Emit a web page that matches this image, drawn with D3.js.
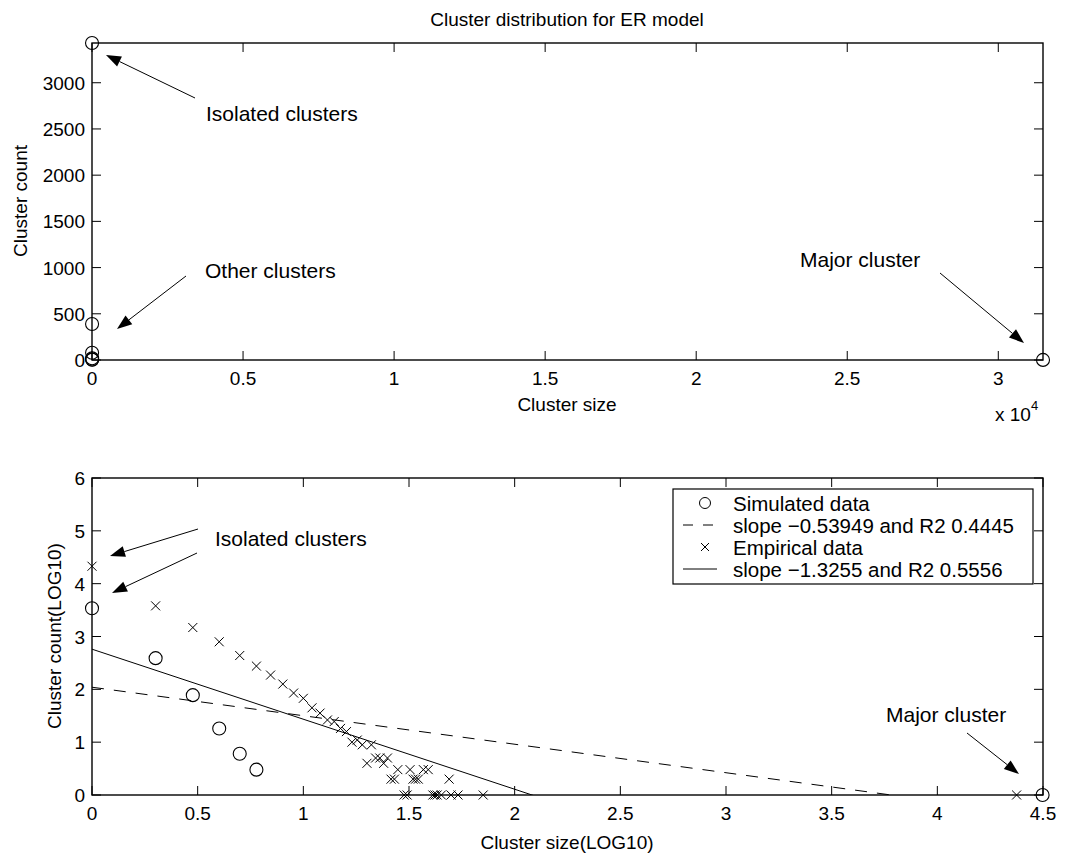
<!DOCTYPE html>
<html><head><meta charset="utf-8">
<script src="https://cdn.jsdelivr.net/npm/d3@7"></script>
<style>
html,body{margin:0;padding:0;background:#fff;}
svg text{font-family:"Liberation Sans",Arial,Helvetica,sans-serif;fill:#000;}
</style></head>
<body>
<script>
// ---------------- DATA ----------------
// Top panel: cluster size vs cluster count (linear)
const simSizes  = [1, 2, 3, 4, 5, 6, 31480];
const simCounts = [3430, 389, 78, 18, 6, 3, 1];
// Bottom panel: log10 values
const simLogX = [0, 0.301, 0.477, 0.602, 0.699, 0.778, 4.498];
const simLogY = [3.535, 2.59, 1.89, 1.26, 0.78, 0.48, 0];
const empLogX = [0, 0.301, 0.477, 0.602, 0.699, 0.778, 0.845, 0.903, 0.954, 1.0, 1.041, 1.079, 1.114, 1.146, 1.176, 1.204, 1.230, 1.255, 1.279, 1.301, 1.322, 1.342, 1.362, 1.380, 1.398, 1.415, 1.431, 1.447, 1.477, 1.491, 1.505, 1.519, 1.531, 1.544, 1.568, 1.591, 1.613, 1.623, 1.633, 1.653, 1.690, 1.699, 1.732, 1.851, 4.375];
const empLogY = [4.33, 3.58, 3.17, 2.90, 2.64, 2.44, 2.27, 2.10, 1.93, 1.83, 1.65, 1.55, 1.42, 1.39, 1.26, 1.20, 1.00, 1.04, 0.95, 0.60, 0.95, 0.70, 0.70, 0.60, 0.70, 0.30, 0.30, 0.48, 0, 0, 0.48, 0.30, 0.30, 0.30, 0.48, 0.48, 0, 0, 0, 0, 0.30, 0, 0, 0, 0];
// Fits: [slope, intercept]
const simFit = [-0.53949, 2.04];
const empFit = [-1.3255, 2.76];
const legendLabels = ["Simulated data", "slope \u22120.53949 and R2 0.4445", "Empirical data", "slope \u22121.3255 and R2 0.5556"];
const topXTicks = [0, 5000, 10000, 15000, 20000, 25000, 30000];
const topXTickLabels = ["0", "0.5", "1", "1.5", "2", "2.5", "3"];
const topYTicks = [0, 500, 1000, 1500, 2000, 2500, 3000];
const botXTicks = [0, 0.5, 1, 1.5, 2, 2.5, 3, 3.5, 4, 4.5];
const botXTickLabels = ["0", "0.5", "1", "1.5", "2", "2.5", "3", "3.5", "4", "4.5"];
const botYTicks = [0, 1, 2, 3, 4, 5, 6];

// ---------------- LAYOUT ----------------
const W = 1066, H = 853, FS = 19, FA = 21, FL = 20.5;
const svg = d3.select("body").append("svg").attr("width", W).attr("height", H);

function drawAxes(g, x, y, xt, xtl, yt, ytl) {
  const [x0, x1] = x.range(), [y0, y1] = y.range();
  const TL = 9;
  g.append("rect").attr("x", x0).attr("y", y1).attr("width", x1 - x0).attr("height", y0 - y1)
    .attr("fill", "none").attr("stroke", "#000").attr("stroke-width", 1.4);
  xt.forEach((v, i) => {
    const px = x(v);
    g.append("line").attr("x1", px).attr("x2", px).attr("y1", y0).attr("y2", y0 - TL).attr("stroke", "#000");
    g.append("line").attr("x1", px).attr("x2", px).attr("y1", y1).attr("y2", y1 + TL).attr("stroke", "#000");
    g.append("text").attr("x", px).attr("y", y0 + 25).attr("text-anchor", "middle")
      .attr("font-size", FS).text(xtl[i]);
  });
  yt.forEach((v, i) => {
    const py = y(v);
    g.append("line").attr("x1", x0).attr("x2", x0 + TL).attr("y1", py).attr("y2", py).attr("stroke", "#000");
    g.append("line").attr("x1", x1).attr("x2", x1 - TL).attr("y1", py).attr("y2", py).attr("stroke", "#000");
    g.append("text").attr("x", x0 - 7).attr("y", py + 7).attr("text-anchor", "end")
      .attr("font-size", FS).text(ytl[i]);
  });
}

function arrow(g, a) {
  const [tx, ty, hx, hy] = a;
  const ang = Math.atan2(hy - ty, hx - tx);
  const L = 15, Wd = 5.5;
  const bx = hx - L * Math.cos(ang), by = hy - L * Math.sin(ang);
  g.append("line").attr("x1", tx).attr("y1", ty).attr("x2", bx).attr("y2", by).attr("stroke", "#000").attr("stroke-width", 1);
  const px = -Math.sin(ang), py = Math.cos(ang);
  g.append("path").attr("d", `M${hx},${hy}L${bx + px * Wd},${by + py * Wd}L${bx - px * Wd},${by - py * Wd}Z`).attr("fill", "#000");
}

// ---------------- TOP PANEL ----------------
const xTop = d3.scaleLinear().domain([0, d3.max(simSizes)]).range([92, 1043]);
const yTop = d3.scaleLinear().domain([0, d3.max(simCounts)]).range([360, 43]);
const gT = svg.append("g");
drawAxes(gT, xTop, yTop, topXTicks, topXTickLabels, topYTicks, topYTicks.map(String));
gT.selectAll("circle.sim").data(simSizes).enter().append("circle")
  .attr("cx", (d) => xTop(d)).attr("cy", (d, i) => yTop(simCounts[i])).attr("r", 6.5)
  .attr("fill", "none").attr("stroke", "#000").attr("stroke-width", 1.1);
svg.append("text").attr("x", 567).attr("y", 26).attr("text-anchor", "middle").attr("font-size", FS).text("Cluster distribution for ER model");
svg.append("text").attr("x", 567).attr("y", 411).attr("text-anchor", "middle").attr("font-size", FS).text("Cluster size");
svg.append("text").attr("transform", "translate(27,201) rotate(-90)").attr("text-anchor", "middle").attr("font-size", FS).text("Cluster count");
const xe = svg.append("text").attr("x", 995).attr("y", 421).attr("font-size", FS);
xe.append("tspan").text("x 10");
xe.append("tspan").attr("dy", -11).attr("font-size", 13).text("4");

const topNotes = [
  {t: "Isolated clusters", x: 206, y: 121, a: [195, 98, 106, 55]},
  {t: "Other clusters", x: 205, y: 278, a: [186, 276, 117, 329]},
  {t: "Major cluster", x: 800, y: 267, a: [940, 273, 1024, 343]}
];
topNotes.forEach(n => {
  svg.append("text").attr("x", n.x).attr("y", n.y).attr("font-size", FA).text(n.t);
  arrow(svg, n.a);
});

// ---------------- BOTTOM PANEL ----------------
const xBot = d3.scaleLinear().domain([0, 4.5]).range([92, 1043]);
const yBot = d3.scaleLinear().domain([0, 6]).range([795, 478]);
const gB = svg.append("g");
svg.append("clipPath").attr("id", "clipB").append("rect").attr("x", 92).attr("y", 478).attr("width", 951).attr("height", 317);
drawAxes(gB, xBot, yBot, botXTicks, botXTickLabels, botYTicks, botYTicks.map(String));
const fitLine = (f) => d3.line().x(d => xBot(d)).y(d => yBot(f[1] + f[0] * d))([0, 4.5]);
gB.append("path").attr("d", fitLine(simFit)).attr("fill", "none").attr("stroke", "#000").attr("stroke-width", 1)
  .attr("stroke-dasharray", "12,10").attr("clip-path", "url(#clipB)");
gB.append("path").attr("d", fitLine(empFit)).attr("fill", "none").attr("stroke", "#000").attr("stroke-width", 1)
  .attr("clip-path", "url(#clipB)");
gB.selectAll("circle.sim").data(simLogX).enter().append("circle")
  .attr("cx", d => xBot(d)).attr("cy", (d, i) => yBot(simLogY[i])).attr("r", 6.5)
  .attr("fill", "none").attr("stroke", "#000").attr("stroke-width", 1.1);
const xs = 4.5;
gB.selectAll("path.emp").data(empLogX).enter().append("path")
  .attr("d", (d, i) => { const cx = xBot(d), cy = yBot(empLogY[i]);
    return `M${cx - xs},${cy - xs}L${cx + xs},${cy + xs}M${cx - xs},${cy + xs}L${cx + xs},${cy - xs}`; })
  .attr("stroke", "#000").attr("stroke-width", 1).attr("fill", "none");
svg.append("text").attr("x", 567).attr("y", 849).attr("text-anchor", "middle").attr("font-size", FS).text("Cluster size(LOG10)");
svg.append("text").attr("transform", "translate(61,636) rotate(-90)").attr("text-anchor", "middle").attr("font-size", FS).text("Cluster count(LOG10)");

const botNotes = [
  {t: "Isolated clusters", x: 215, y: 546, a: [[198, 529, 110, 556], [197, 553, 112, 593]]},
  {t: "Major cluster", x: 886, y: 722, a: [[967, 733, 1019, 774]]}
];
botNotes.forEach(n => {
  svg.append("text").attr("x", n.x).attr("y", n.y).attr("font-size", FA).text(n.t);
  n.a.forEach(a => arrow(svg, a));
});

// Legend
const lg = svg.append("g");
lg.append("rect").attr("x", 673).attr("y", 489).attr("width", 360).attr("height", 95)
  .attr("fill", "#fff").attr("stroke", "#000").attr("stroke-width", 1.2);
const rowY = [503, 525, 547, 569];
legendLabels.forEach((t, i) => {
  lg.append("text").attr("x", 733).attr("y", rowY[i] + 7.5).attr("font-size", FL).text(t);
});
lg.append("circle").attr("cx", 705).attr("cy", rowY[0]).attr("r", 5.5).attr("fill", "none").attr("stroke", "#000");
lg.append("line").attr("x1", 683).attr("x2", 717).attr("y1", rowY[1]).attr("y2", rowY[1]).attr("stroke", "#000").attr("stroke-dasharray", "10,10");
lg.append("path").attr("d", `M${705 - 4},${rowY[2] - 4}L${705 + 4},${rowY[2] + 4}M${705 - 4},${rowY[2] + 4}L${705 + 4},${rowY[2] - 4}`).attr("stroke", "#000");
lg.append("line").attr("x1", 683).attr("x2", 717).attr("y1", rowY[3]).attr("y2", rowY[3]).attr("stroke", "#000");
</script>
</body></html>
